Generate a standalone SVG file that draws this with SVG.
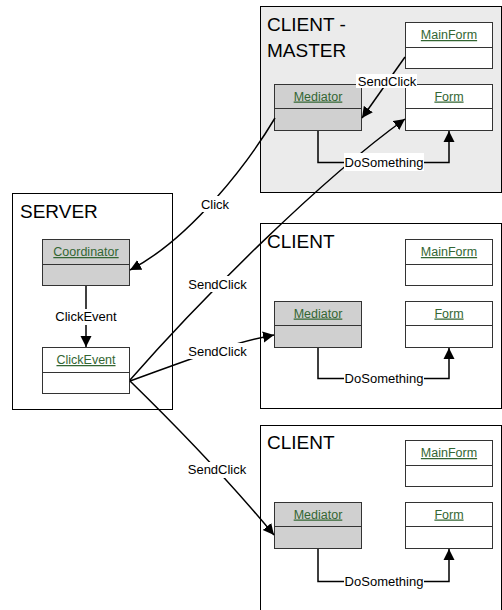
<svg xmlns="http://www.w3.org/2000/svg" width="502" height="610" viewBox="0 0 502 610">
<defs>
<style>
.cont{fill:#fff;stroke:#000;stroke-width:1}
.master{fill:#ebebeb}
.title{font-family:"Liberation Sans",Arial,sans-serif;font-size:19px;fill:#000}
.box{fill:#fff;stroke:#333;stroke-width:1}
.gray{fill:#d0d0d0}
.cls{font-family:"Liberation Sans",Arial,sans-serif;font-size:12.5px;fill:#336633;text-decoration:underline;text-anchor:middle}
.edge{fill:none;stroke:#000;stroke-width:1.5}
.lbl{font-family:"Liberation Sans",Arial,sans-serif;font-size:13px;fill:#000;text-anchor:middle}
.lblbg{fill:#fff}
</style>
<marker id="arr" markerUnits="userSpaceOnUse" markerWidth="12" markerHeight="12" viewBox="0 0 12 12" refX="11" refY="6" orient="auto">
<path d="M0,0.5 L11,6 L0,11.5 z" fill="#000"/>
</marker>
</defs>

<!-- containers -->
<g id="client-master">
<rect class="cont master" x="260.5" y="6.5" width="241" height="186"/>
<text class="title" x="267" y="31">CLIENT -</text>
<text class="title" x="267" y="57">MASTER</text>
</g>
<g id="client-2">
<rect class="cont" x="260.5" y="223.5" width="241" height="185"/>
<text class="title" x="267" y="248">CLIENT</text>
</g>
<g id="client-3">
<rect class="cont" x="260.5" y="425.5" width="241" height="190"/>
<text class="title" x="267" y="449">CLIENT</text>
</g>
<g id="server">
<rect class="cont" x="12.5" y="193.5" width="160" height="216"/>
<text class="title" x="20" y="218">SERVER</text>
</g>

<!-- class boxes -->
<g id="m-mainform">
<rect class="box" x="405.5" y="22.5" width="87" height="46"/>
<line class="box" x1="405.5" y1="47.5" x2="492.5" y2="47.5"/>
<text class="cls" x="449" y="39">MainForm</text>
</g>
<g id="m-mediator">
<rect class="box gray" x="274.5" y="84.5" width="87" height="46"/>
<line class="box" x1="274.5" y1="108.5" x2="361.5" y2="108.5"/>
<text class="cls" x="318" y="100.5">Mediator</text>
</g>
<g id="m-form">
<rect class="box" x="405.5" y="84.5" width="87" height="46"/>
<line class="box" x1="405.5" y1="108.5" x2="492.5" y2="108.5"/>
<text class="cls" x="449" y="100.5">Form</text>
</g>

<g id="c2-mainform">
<rect class="box" x="405.5" y="239.5" width="87" height="46"/>
<line class="box" x1="405.5" y1="264.5" x2="492.5" y2="264.5"/>
<text class="cls" x="449" y="256">MainForm</text>
</g>
<g id="c2-mediator">
<rect class="box gray" x="274.5" y="301.5" width="87" height="46"/>
<line class="box" x1="274.5" y1="325.5" x2="361.5" y2="325.5"/>
<text class="cls" x="318" y="317.5">Mediator</text>
</g>
<g id="c2-form">
<rect class="box" x="405.5" y="301.5" width="87" height="46"/>
<line class="box" x1="405.5" y1="325.5" x2="492.5" y2="325.5"/>
<text class="cls" x="449" y="317.5">Form</text>
</g>

<g id="c3-mainform">
<rect class="box" x="405.5" y="440.5" width="87" height="46"/>
<line class="box" x1="405.5" y1="465.5" x2="492.5" y2="465.5"/>
<text class="cls" x="449" y="457">MainForm</text>
</g>
<g id="c3-mediator">
<rect class="box gray" x="274.5" y="502.5" width="87" height="46"/>
<line class="box" x1="274.5" y1="526.5" x2="361.5" y2="526.5"/>
<text class="cls" x="318" y="518.5">Mediator</text>
</g>
<g id="c3-form">
<rect class="box" x="405.5" y="502.5" width="87" height="46"/>
<line class="box" x1="405.5" y1="526.5" x2="492.5" y2="526.5"/>
<text class="cls" x="449" y="518.5">Form</text>
</g>

<g id="coordinator">
<rect class="box gray" x="42.5" y="239.5" width="87" height="46"/>
<line class="box" x1="42.5" y1="264.5" x2="129.5" y2="264.5"/>
<text class="cls" x="86" y="256">Coordinator</text>
</g>
<g id="clickevent">
<rect class="box" x="42.5" y="347.5" width="87" height="46"/>
<line class="box" x1="42.5" y1="372.5" x2="129.5" y2="372.5"/>
<text class="cls" x="86" y="364">ClickEvent</text>
</g>

<!-- connectors -->
<g id="connectors">
<path class="edge" d="M318,131 V162.5 H449 V131" marker-end="url(#arr)"/>
<path class="edge" d="M318,348 V378.5 H449 V348" marker-end="url(#arr)"/>
<path class="edge" d="M318,549 V581.5 H449 V549" marker-end="url(#arr)"/>
<path class="edge" d="M405,57 L362,118" marker-end="url(#arr)"/>
<path class="edge" d="M275,118 C250,160 192,238 130,270" marker-end="url(#arr)"/>
<path class="edge" d="M86,286 V347" marker-end="url(#arr)"/>
<path class="edge" d="M130,380 C200,300 320,180 405,119" marker-end="url(#arr)"/>
<path class="edge" d="M130,381 C180,363 230,343 274,335" marker-end="url(#arr)"/>
<path class="edge" d="M130,381 C170,420 230,482 274,535" marker-end="url(#arr)"/>

<rect class="lblbg" x="344" y="153" width="80" height="18"/>
<text class="lbl" x="384" y="167">DoSomething</text>
<rect class="lblbg" x="344" y="369" width="80" height="18"/>
<text class="lbl" x="384" y="383">DoSomething</text>
<rect class="lblbg" x="344" y="572" width="80" height="18"/>
<text class="lbl" x="384" y="586">DoSomething</text>
<rect class="lblbg" x="356" y="74" width="61" height="14"/>
<text class="lbl" x="387" y="86">SendClick</text>
<rect class="lblbg" x="199" y="196" width="32" height="16"/>
<text class="lbl" x="215" y="209">Click</text>
<rect class="lblbg" x="53" y="309" width="66" height="16"/>
<text class="lbl" x="86" y="321">ClickEvent</text>
<rect class="lblbg" x="186" y="276" width="63" height="16"/>
<text class="lbl" x="217.5" y="288.5">SendClick</text>
<rect class="lblbg" x="186" y="343" width="63" height="16"/>
<text class="lbl" x="217.5" y="355.5">SendClick</text>
<rect class="lblbg" x="186" y="462" width="63" height="16"/>
<text class="lbl" x="217" y="474">SendClick</text>
</g>
</svg>
